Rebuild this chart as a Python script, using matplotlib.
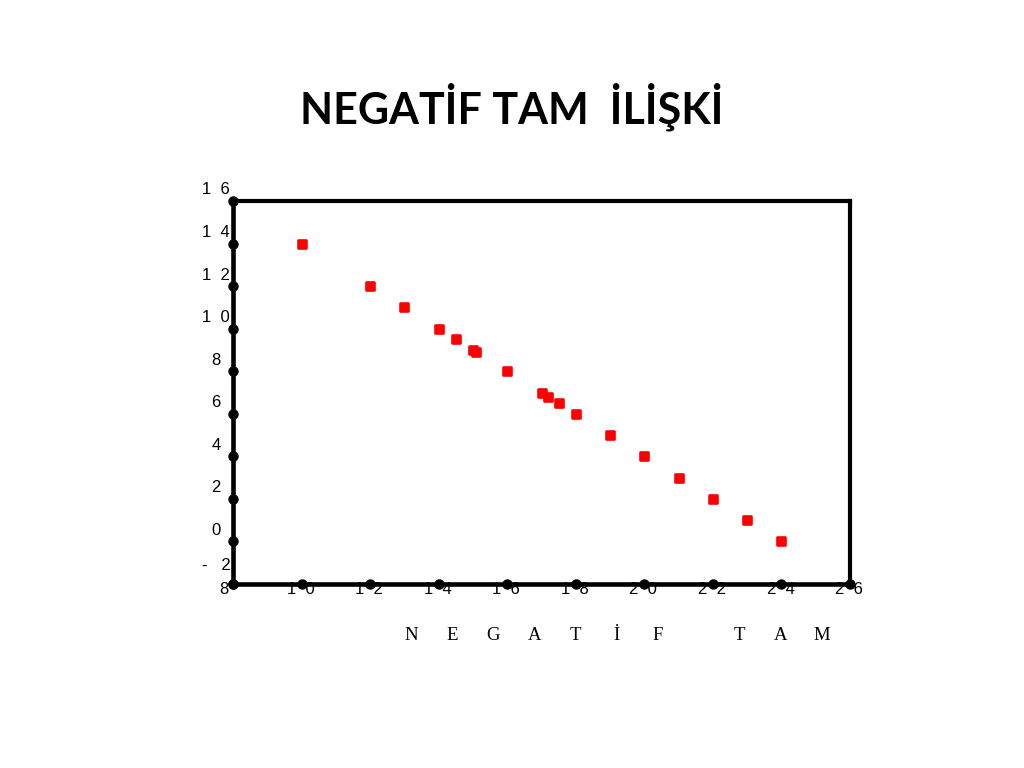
import matplotlib
matplotlib.use("Agg")
import matplotlib.pyplot as plt
import matplotlib.transforms as mtransforms
from matplotlib.markers import MarkerStyle

# data
x_vals = [10, 12, 13, 14, 14.5, 15, 15.1, 16, 17, 17.2, 17.5, 18, 19, 20, 21, 22, 23, 24]
y_vals = [14, 12, 11, 10, 9.5, 9, 8.9, 8, 7, 6.8, 6.5, 6, 5, 4, 3, 2, 1, 0]

x_ticks = [8, 10, 12, 14, 16, 18, 20, 22, 24, 26]
x_tick_labels = ["8", "1  0", "1  2", "1  4", "1  6", "1  8", "2  0", "2  2", "2  4", "2  6"]
y_ticks = [16, 14, 12, 10, 8, 6, 4, 2, 0, -2]
y_tick_labels = ["1  6", "1  4", "1  2", "1  0", "8", "6", "4", "2", "0", "-   2"]

title = "NEGATİF TAM  İLİŞKİ"
xlabel_chars = "NEGATİF TAM"

fig = plt.figure(figsize=(10.24, 7.68), dpi=100)
ax = fig.add_axes([233/1024, 1 - 584/768, 617/1024, 383/768])
ax.set_xlim(8, 26)
ax.set_ylim(-2, 16)
for s in ax.spines.values():
    s.set_linewidth(3)
    s.set_color("black")
ax.spines["left"].set_linewidth(3.3)
ax.spines["bottom"].set_linewidth(3.3)
ax.set_xticks([])
ax.set_yticks([])

# red data squares (slightly rounded corners)
sq = MarkerStyle("s", joinstyle="round")
ax.plot(x_vals, y_vals, linestyle="none", marker=sq, ms=6.3, mew=1.9,
        color="#ff0000", mec="#ff0000")

# black dots on the axes at each tick
ax.plot([8] * len(y_ticks), y_ticks, "o", color="black", ms=6.5, clip_on=False, zorder=5)
ax.plot(x_ticks, [-2] * len(x_ticks), "o", color="black", ms=6.5, clip_on=False, zorder=5)

def px(dx, dy):
    return mtransforms.ScaledTranslation(dx / 100, dy / 100, fig.dpi_scale_trans)

tick_font = dict(family="Liberation Sans", fontsize=12, color="black")
for v, lab in zip(y_ticks, y_tick_labels):
    dy = 18 if v == -2 else 11
    ax.text(8, v, lab, transform=ax.transData + px(-17, dy),
            ha="center", va="center", clip_on=False, **tick_font)
for v, lab in zip(x_ticks, x_tick_labels):
    if v == 8:
        ax.text(v, -2, lab, transform=ax.transData + px(-5, 2),
                ha="right", va="top", **tick_font)
    else:
        ax.text(v, -2, lab, transform=ax.transData + px(-1, 2),
                ha="center", va="top", **tick_font)

# spaced x label
for i, ch in enumerate(xlabel_chars):
    fig.text((411 + i * 41.1) / 1024, 1 - 635 / 768, ch, ha="center", va="center",
             family="Liberation Serif", fontsize=13.5)

fig.text(0.5, 1 - 107 / 768, title, ha="center", va="center",
         family="Lato", fontweight="bold", fontsize=31)

fig.savefig("out.png", dpi=100)
